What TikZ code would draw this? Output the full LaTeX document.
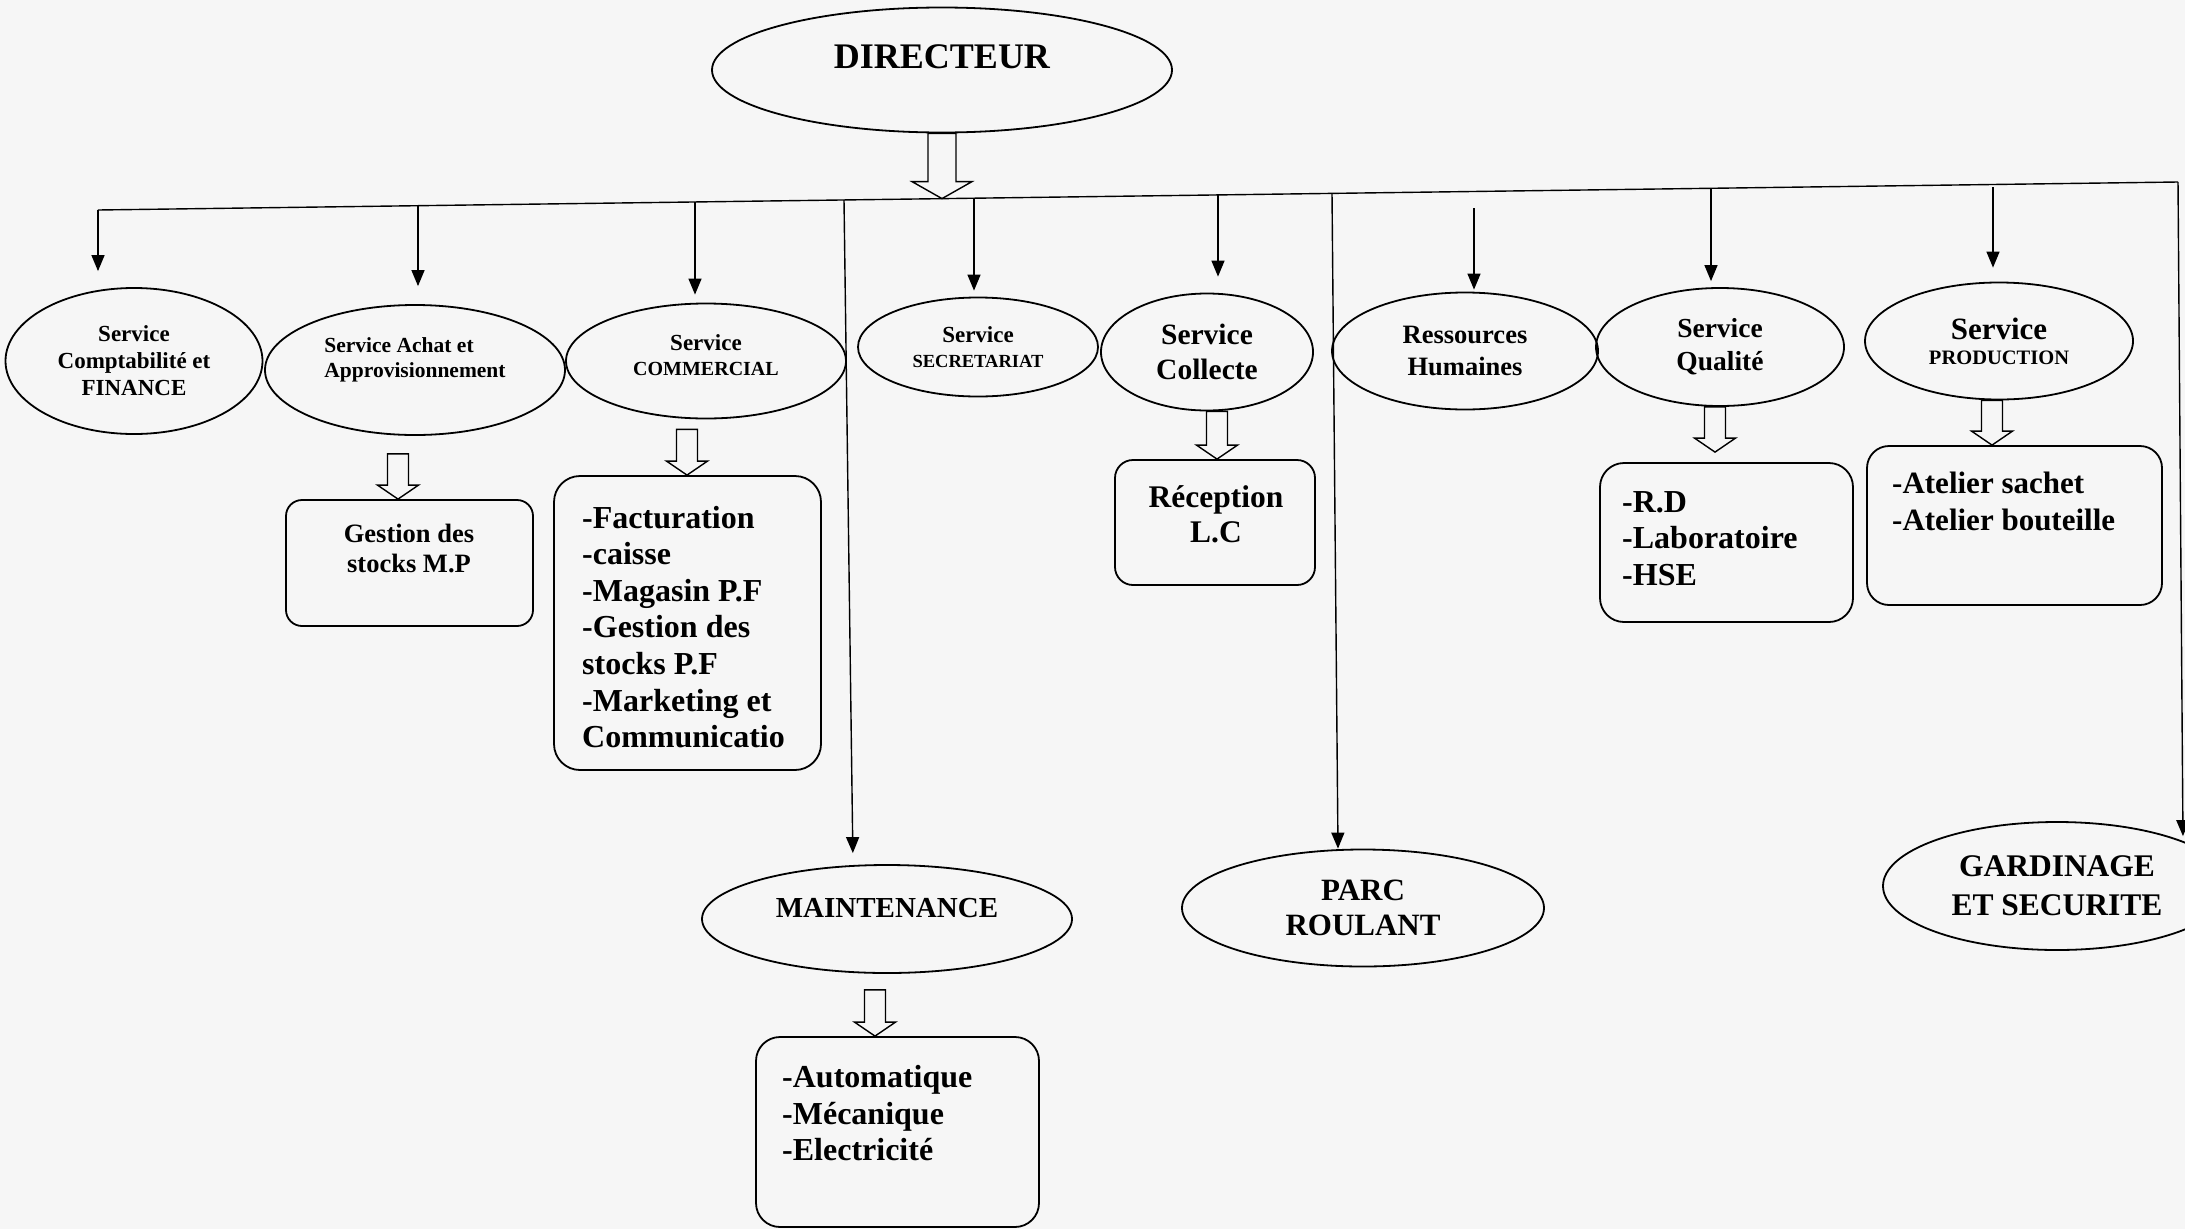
\documentclass[tikz,border=0pt]{standalone}
\usepackage{fontspec}
\setmainfont{Liberation Serif}
\usetikzlibrary{shapes.geometric,arrows.meta,calc}

% font size with explicit line spacing
\newcommand\fsz[2]{\fontsize{#1}{#2}\selectfont}
% hollow block arrow: start, end (only its y is used), shaft half width, head half width, head length
\newcommand\blockarrow[5]{%
  \draw[hollow] let \p1=(#1), \p2=(#2) in
    (\x1-#3,\y1) -- (\x1-#3,\y2+#5) -- (\x1-#4,\y2+#5) -- (\x1,\y2)
    -- (\x1+#4,\y2+#5) -- (\x1+#3,\y2+#5) -- (\x1+#3,\y1) -- cycle;}

\definecolor{paper}{gray}{0.965}

\begin{document}
\begin{tikzpicture}[x=1pt,y=-1pt,
  oval/.style={ellipse,draw,line width=1.8pt,inner sep=0pt,align=center},
  card/.style={draw,line width=1.8pt,rounded corners=#1,inner sep=0pt},
  card/.default=20pt,
  list/.style={inner sep=0pt,align=left},
  drop/.style={line width=1.4pt,-{Triangle[width=13pt,length=16pt]}},
  bus/.style={line width=1.4pt},
  hollow/.style={draw,line width=1.4pt,line join=miter}]

\useasboundingbox (0,0) rectangle (2185,1229);
\fill[paper] (0,0) rectangle (2185,1229);

% ---------- head ----------
\node[oval,minimum width=460pt,minimum height=125pt,text depth=26pt,
      font=\bfseries\fsz{36}{40}] (dir) at (942,70) {DIRECTEUR};

% ---------- services ----------
\node[oval,minimum width=257pt,minimum height=146pt,font=\bfseries\fsz{23}{27}]
  (cf) at (134,361) {Service\\Comptabilité et\\FINANCE};
\node[oval,minimum width=300pt,minimum height=130pt,text depth=25pt,align=left,font=\bfseries\fsz{21.5}{25}]
  (ach) at (415,370) {Service Achat et\\Approvisionnement};
\node[oval,minimum width=280pt,minimum height=115pt,text depth=12pt,font=\bfseries\fsz{23}{25}]
  (com) at (706,361) {Service\\{\fsz{20}{25}COMMERCIAL}};
\node[oval,minimum width=240pt,minimum height=99pt,font=\bfseries\fsz{23}{25}]
  (sec) at (978,347) {Service\\{\fsz{18.5}{25}SECRETARIAT}};
\node[oval,minimum width=212pt,minimum height=117pt,font=\bfseries\fsz{29.5}{35}]
  (col) at (1207,352) {Service\\Collecte};
\node[oval,minimum width=266pt,minimum height=117pt,font=\bfseries\fsz{26.5}{32}]
  (rh) at (1465,351) {Ressources\\Humaines};
\node[oval,minimum width=248pt,minimum height=118pt,font=\bfseries\fsz{27.5}{33}]
  (qua) at (1720,347) {Service\\Qualité};
\node[oval,minimum width=268pt,minimum height=117pt,font=\bfseries\fsz{31}{25}]
  (pro) at (1999,341) {Service\\{\fsz{20.5}{25}PRODUCTION}};

% ---------- lower units ----------
\node[oval,minimum width=370pt,minimum height=108pt,text depth=22pt,font=\bfseries\fsz{29}{34}]
  (mnt) at (887,919) {MAINTENANCE};
\node[oval,minimum width=362pt,minimum height=117pt,font=\bfseries\fsz{31}{35}]
  (parc) at (1363,908) {PARC\\ROULANT};
\node[oval,minimum width=348pt,minimum height=128pt,font=\bfseries\fsz{31.5}{39}]
  (gard) at (2057,886) {GARDINAGE\\ET SECURITE};

% ---------- task boxes ----------
\node[card=16pt,minimum width=247pt,minimum height=126pt] (stkmp) at (409.5,563) {};
\node[list,align=center,font=\bfseries\fsz{26.5}{30}] (stkmptxt) at (409,548)
  {Gestion des\\stocks M.P};

\node[card=26pt,minimum width=267pt,minimum height=294pt] (cmlist) at (687.5,623) {};
\node[list,anchor=west,font=\bfseries\fsz{32}{36.6}] (cmtxt) at (582,627)
  {-Facturation\\-caisse\\-Magasin P.F\\-Gestion des\\stocks P.F\\-Marketing et\\Communicatio};

\node[card=18pt,minimum width=200pt,minimum height=125pt] (recep) at (1215,522.5) {};
\node[list,align=center,font=\bfseries\fsz{31.5}{35}] (receptxt) at (1216,514.5)
  {Réception\\L.C};

\node[card=24pt,minimum width=253pt,minimum height=159pt] (qlist) at (1726.5,542.5) {};
\node[list,anchor=west,font=\bfseries\fsz{32}{36.5}] (qtxt) at (1622,538.5)
  {-R.D\\-Laboratoire\\-HSE};

\node[card=22pt,minimum width=295pt,minimum height=159pt] (plist) at (2014.5,525.5) {};
\node[list,anchor=west,font=\bfseries\fsz{31}{37}] (ptxt) at (1892,501.5)
  {-Atelier sachet\\-Atelier bouteille};

\node[card=24pt,minimum width=283pt,minimum height=190pt] (mlist) at (897.5,1132) {};
\node[list,anchor=west,font=\bfseries\fsz{32}{36.5}] (mtxt) at (782,1113.5)
  {-Automatique\\-Mécanique\\-Electricité};

% ---------- distribution line ----------
\coordinate (busL) at (98,210);
\coordinate (busR) at (2178,182);
\coordinate (tapach) at (418,205.7);
\coordinate (tapcom) at (695,202);
\coordinate (tapmnt) at (844,200);
\coordinate (tapdir) at (942,198.6);
\coordinate (tapsec) at (974,198.2);
\coordinate (tapcol) at (1218,194.9);
\coordinate (tapparc) at (1332,193.4);
\coordinate (taprh) at (1474,208);
\coordinate (tapqua) at (1711,188.3);
\coordinate (tappro) at (1993,187);

\draw[bus] (busL) -- (busR);
\blockarrow{dir.south}{tapdir}{14pt}{30pt}{17pt}

\draw[drop,shorten >=16pt] (busL) -- (busL |- cf.north);
\draw[drop,shorten >=18pt] (tapach) -- (tapach |- ach.north);
\draw[drop,shorten >=8pt] (tapcom) -- (tapcom |- com.north);
\draw[drop,shorten >=6pt] (tapsec) -- (tapsec |- sec.north);
\draw[drop,shorten >=16pt] (tapcol) -- (tapcol |- col.north);
\draw[drop,shorten >=2pt] (taprh) -- (taprh |- rh.north);
\draw[drop,shorten >=6pt] (tapqua) -- (tapqua |- qua.north);
\draw[drop,shorten >=14pt] (tappro) -- (tappro |- pro.north);

\draw[drop,shorten >=11pt] (tapmnt) -- ([xshift=-34pt]mnt.north);
\draw[drop] (tapparc) -- ([xshift=-25pt]parc.north);
\draw[drop,shorten >=5pt] (busR) -- ([xshift=126pt,yshift=-20pt]gard.north);

% ---------- service to task arrows ----------
\blockarrow{[xshift=-17pt,yshift=-18pt]ach.south}{stkmp.north}{10.5pt}{20.5pt}{14pt}
\blockarrow{[xshift=-19pt,yshift=-10pt]com.south}{cmlist.north}{10.5pt}{20.5pt}{14pt}
\blockarrow{[xshift=10pt]col.south}{recep.north}{10.5pt}{20.5pt}{14pt}
\blockarrow{[xshift=-5pt]qua.south}{[yshift=10pt]qlist.north}{10.5pt}{20.5pt}{14pt}
\blockarrow{[xshift=-7pt]pro.south}{plist.north}{10.5pt}{20.5pt}{14pt}
\blockarrow{[xshift=-12pt,yshift=-16pt]mnt.south}{mlist.north}{10.5pt}{20.5pt}{14pt}

\end{tikzpicture}
\end{document}
